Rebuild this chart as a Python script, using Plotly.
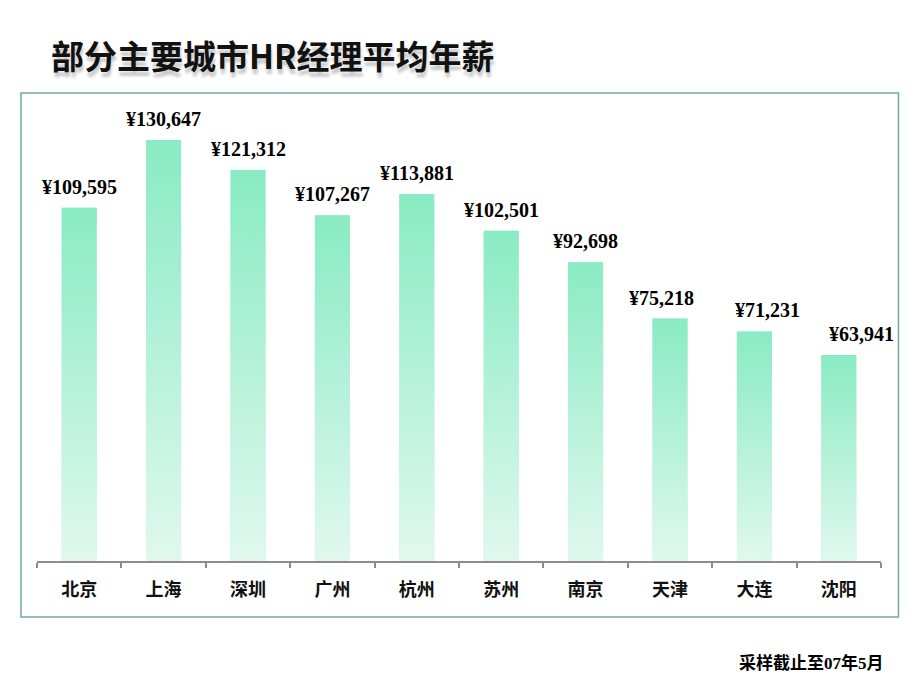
import plotly.graph_objects as go

# ---- data ----
cities = ["北京", "上海", "深圳", "广州", "杭州", "苏州", "南京", "天津", "大连", "沈阳"]
salaries = [109595, 130647, 121312, 107267, 113881, 102501, 92698, 75218, 71231, 63941]
title_text = "部分主要城市HR经理平均年薪"
note_text = "采样截止至07年5月"

# ---- style ----
label_dx = [0, 0, 0, 0, 0, 0, 0, -9, 13, 23]   # manual label nudges seen in the original
bar_w = 0.415
top_col = "#89EBC4"
bot_col = "#E0F8EE"

idx = list(range(len(cities)))
fig = go.Figure()

# base bars (data marks)
fig.add_trace(go.Bar(x=idx, y=salaries, width=bar_w, marker=dict(color="#B5F1D9", line=dict(width=0)),
                     hoverinfo="skip", showlegend=False))

# per-bar vertical gradient overlay
for i, v in zip(idx, salaries):
    fig.add_trace(go.Scatter(
        x=[i - bar_w / 2, i - bar_w / 2, i + bar_w / 2, i + bar_w / 2, i - bar_w / 2],
        y=[0, v, v, 0, 0],
        mode="lines", line=dict(width=0), fill="toself",
        fillgradient=dict(type="vertical", colorscale=[[0, bot_col], [1, top_col]]),
        hoverinfo="skip", showlegend=False))

# value labels
for i, v in zip(idx, salaries):
    fig.add_annotation(x=i, y=v, text=f"¥{v:,}", showarrow=False, yshift=21, xshift=label_dx[i],
                       yanchor="middle",
                       font=dict(family="Liberation Serif", size=20, color="#000000", weight=700))

# title
fig.add_annotation(xref="paper", yref="paper", x=0.0142, y=1.0975, xanchor="left", yanchor="middle",
                   text=title_text, showarrow=False,
                   font=dict(family="Noto Sans CJK SC", size=33, color="#111111", weight=700,
                             shadow="1px 5px 3px rgba(0,0,0,0.22)"))

# footnote
fig.add_annotation(xref="paper", yref="paper", x=1.0065, y=-0.2223, xanchor="right", yanchor="middle",
                   text=note_text, showarrow=False,
                   font=dict(family="Liberation Serif, Noto Sans CJK SC", size=17, color="#000000", weight=700))

# frame
fig.add_shape(type="rect", xref="paper", yref="paper", x0=-0.019, x1=1.0207, y0=-0.1215, y1=1.0152,
              line=dict(color="#6FA9A0", width=1.5), fillcolor="rgba(0,0,0,0)", layer="below")

# page body adds an 8px offset, so the figure is sized/margined to compensate
fig.update_layout(
    width=912, height=682,
    margin=dict(l=29, r=39, t=92, b=129),
    paper_bgcolor="white", plot_bgcolor="white",
    bargap=0.5,
    xaxis=dict(range=[-0.5, len(cities) - 0.5], tickmode="array", tickvals=idx, ticktext=cities,
               showgrid=False, zeroline=False, showline=True, linecolor="#8C8C8C", linewidth=1.5,
               ticks="", ticklabelstandoff=12,
               tickfont=dict(family="Noto Sans CJK SC", size=18, color="#111111", weight=700),
               minor=dict(tickmode="array", tickvals=[k - 0.5 for k in range(len(cities) + 1)],
                          ticks="outside", ticklen=5, tickcolor="#8C8C8C", tickwidth=1.5, showgrid=False)),
    yaxis=dict(range=[0, 143030], visible=False, showgrid=False, zeroline=False),
)

fig.write_html("out.html")
